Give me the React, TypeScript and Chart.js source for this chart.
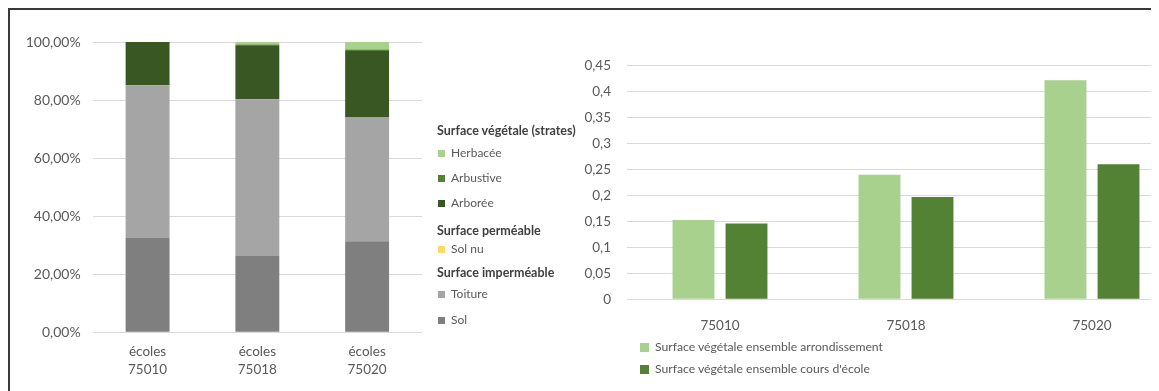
import React, { useEffect, useRef } from "react";
import { Chart, registerables } from "chart.js";
Chart.register(...registerables);

// Left chart: composition of school surfaces (%)
const schoolLabels = [["écoles", "75010"], ["écoles", "75018"], ["écoles", "75020"]];
const solValues = [32.5, 26.3, 31.4];
const toitureValues = [52.6, 54.0, 42.6];
const solNuValues = [0, 0, 0];
const arboreeValues = [14.9, 18.3, 22.9];
const arbustiveValues = [0, 0.5, 0.5];
const herbaceeValues = [0, 0.9, 2.6];
const leftTickLabels = ["0,00%", "20,00%", "40,00%", "60,00%", "80,00%", "100,00%"];

// Right chart: vegetated share
const districtLabels = ["75010", "75018", "75020"];
const arrondissementValues = [0.153, 0.24, 0.422];
const coursValues = [0.146, 0.197, 0.26];
const rightTickLabels = ["0", "0,05", "0,1", "0,15", "0,2", "0,25", "0,3", "0,35", "0,4", "0,45"];

const C_SOL = "#7f7f7f";
const C_TOIT = "#a5a5a5";
const C_SOLNU = "#ffd966";
const C_ARBO = "#385723";
const C_ARBU = "#548235";
const C_HERB = "#a9d18e";
const FONT = "Lato, 'Open Sans', sans-serif";
const TXT = "#595959";
const GRID = "#d9d9d9";

function LeftChart() {
  const ref = useRef<HTMLCanvasElement>(null);
  useEffect(() => {
    const chart = new Chart(ref.current!, {
      type: "bar",
      data: {
        labels: schoolLabels,
        datasets: [
          { label: "Sol", data: solValues, backgroundColor: C_SOL },
          { label: "Toiture", data: toitureValues, backgroundColor: C_TOIT },
          { label: "Sol nu", data: solNuValues, backgroundColor: C_SOLNU },
          { label: "Arborée", data: arboreeValues, backgroundColor: C_ARBO },
          { label: "Arbustive", data: arbustiveValues, backgroundColor: C_ARBU },
          { label: "Herbacée", data: herbaceeValues, backgroundColor: C_HERB },
        ],
      },
      options: {
        animation: false,
        responsive: false,
        maintainAspectRatio: false,
        layout: { padding: { left: 0, right: 18, top: 32, bottom: 0 } },
        plugins: { legend: { display: false }, tooltip: { enabled: false } },
        datasets: { bar: { barPercentage: 0.4, categoryPercentage: 1 } },
        scales: {
          x: {
            stacked: true,
            grid: { display: false },
            border: { display: false },
            ticks: { color: TXT, font: { family: FONT, size: 13.5, lineHeight: 1.3 }, padding: 3 },
            afterFit: (s: any) => { s.height = 58.7; },
          },
          y: {
            stacked: true,
            min: 0,
            max: 100,
            grid: { color: GRID, drawTicks: false, lineWidth: 1 },
            border: { display: false },
            ticks: {
              stepSize: 20,
              color: TXT,
              padding: 12,
              font: { family: FONT, size: 14 },
              callback: (v: any) => leftTickLabels[Math.round(Number(v) / 20)],
            },
            afterFit: (s: any) => { s.width = 82.7; },
          },
        },
      },
    });
    return () => chart.destroy();
  }, []);
  return <canvas ref={ref} width={430} height={381} style={{ position: "absolute", left: 0, top: 0, width: 430, height: 381 }} />;
}

function RightChart() {
  const ref = useRef<HTMLCanvasElement>(null);
  useEffect(() => {
    const chart = new Chart(ref.current!, {
      type: "bar",
      data: {
        labels: districtLabels,
        datasets: [
          { label: "Surface végétale ensemble arrondissement", data: arrondissementValues, backgroundColor: C_HERB },
          { label: "Surface végétale ensemble cours d'école", data: coursValues, backgroundColor: C_ARBU },
        ],
      },
      options: {
        animation: false,
        responsive: false,
        maintainAspectRatio: false,
        layout: { padding: { left: 0, right: 15, top: 55.7, bottom: 0 } },
        plugins: { legend: { display: false }, tooltip: { enabled: false } },
        datasets: { bar: { barPercentage: 0.79, categoryPercentage: 0.57 } },
        scales: {
          x: {
            grid: { display: false },
            border: { display: false },
            ticks: { color: TXT, font: { family: FONT, size: 13.5 }, padding: 10 },
            afterFit: (s: any) => { s.height = 91.7; },
          },
          y: {
            min: 0,
            max: 0.45,
            grid: { color: GRID, drawTicks: false, lineWidth: 1 },
            border: { display: false },
            ticks: {
              stepSize: 0.05,
              color: TXT,
              padding: 16,
              font: { family: FONT, size: 13.5 },
              callback: (v: any) => rightTickLabels[Math.round(Number(v) / 0.05)],
            },
            afterFit: (s: any) => { s.width = 67; },
          },
        },
      },
    });
    return () => chart.destroy();
  }, []);
  return <canvas ref={ref} width={640} height={381} style={{ position: "absolute", left: 550, top: 0, width: 640, height: 381 }} />;
}

const hdr: React.CSSProperties = { position: "absolute", left: 427, fontFamily: FONT, fontSize: 12.5, fontWeight: 700, color: "#404040", lineHeight: "16px", whiteSpace: "nowrap" };
const item: React.CSSProperties = { position: "absolute", left: 428, fontFamily: FONT, fontSize: 12, color: TXT, lineHeight: "16px", whiteSpace: "nowrap", display: "flex", alignItems: "center" };
const sw = (c: string, s = 7): React.CSSProperties => ({ display: "inline-block", width: s, height: s, background: c, marginRight: 6 });

export default function App() {
  return (
    <div style={{ position: "relative", width: 1151, height: 383, overflow: "hidden", borderTop: "2px solid #3a3a3a", borderLeft: "2px solid #3a3a3a", boxSizing: "border-box", background: "#fff" }}>
      <LeftChart />
      <RightChart />
      <div style={{ ...hdr, top: 113 }}>Surface végétale (strates)</div>
      <div style={{ ...item, top: 135 }}><span style={sw(C_HERB)} />Herbacée</div>
      <div style={{ ...item, top: 160 }}><span style={sw(C_ARBU)} />Arbustive</div>
      <div style={{ ...item, top: 185 }}><span style={sw(C_ARBO)} />Arborée</div>
      <div style={{ ...hdr, top: 213 }}>Surface perméable</div>
      <div style={{ ...item, top: 231 }}><span style={sw(C_SOLNU)} />Sol nu</div>
      <div style={{ ...hdr, top: 255 }}>Surface imperméable</div>
      <div style={{ ...item, top: 276 }}><span style={sw(C_TOIT)} />Toiture</div>
      <div style={{ ...item, top: 302 }}><span style={sw(C_SOL)} />Sol</div>
      <div style={{ ...item, left: 630, fontSize: 12.2, top: 329 }}><span style={sw(C_HERB, 9)} />Surface végétale ensemble arrondissement</div>
      <div style={{ ...item, left: 630, fontSize: 12.2, top: 351 }}><span style={sw(C_ARBU, 9)} />Surface végétale ensemble cours d'école</div>
    </div>
  );
}
